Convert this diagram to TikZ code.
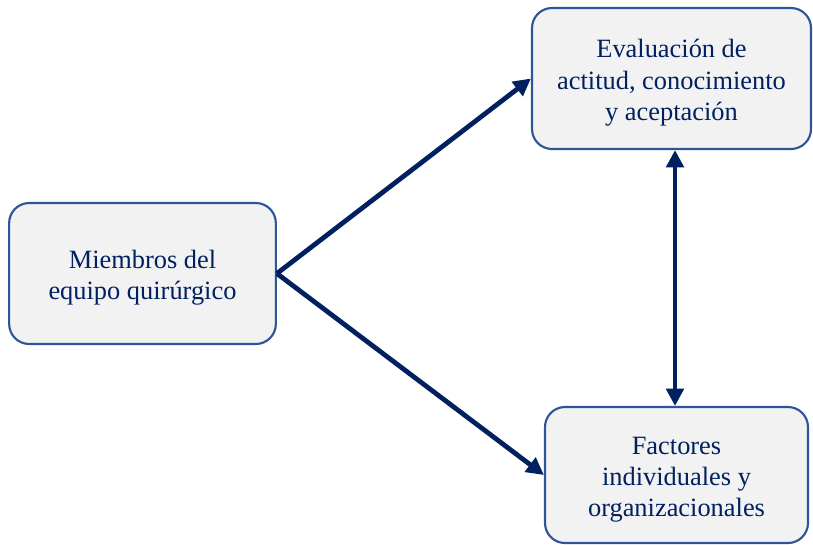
\documentclass[tikz,border=0pt]{standalone}
\usepackage{fontspec}
\setmainfont{Liberation Serif}
\usetikzlibrary{arrows.meta}
\definecolor{navy}{HTML}{002060}
\definecolor{boxline}{HTML}{2F5597}
\definecolor{boxfill}{HTML}{F2F2F2}
\newcommand{\boxlines}[1]{\raisebox{-3.2pt}[\height][\depth]{\begin{tabular}{@{}c@{}}#1\end{tabular}}}
\begin{document}
\begin{tikzpicture}[x=0.75pt,y=-0.75pt,
  box/.style={draw=boxline, fill=boxfill, line width=1.6pt, rounded corners=15pt,
    text=navy, font=\fontsize{19.8}{23.5}\selectfont, inner sep=0pt},
  conn/.style={draw=navy, line width=3.6pt, -{Triangle[length=13pt,width=13pt]}},
  dconn/.style={draw=navy, line width=3.6pt, {Triangle[length=13pt,width=13pt]}-{Triangle[length=13pt,width=13pt]}}]
\useasboundingbox (0,0) rectangle (813,544);
\node[box, minimum width=200pt, minimum height=105.75pt] (m) at (142.5,273.5)
  {\boxlines{Miembros del\\equipo quirúrgico}};
\node[box, minimum width=209.25pt, minimum height=105.75pt] (t) at (671.5,78.5)
  {\boxlines{Evaluación de\\actitud, conocimiento\\y aceptación}};
\node[box, minimum width=197.25pt, minimum height=102pt] (b) at (676.5,475)
  {\boxlines{Factores\\individuales y\\organizacionales}};
\draw[conn] (m.east) -- (t.west);
\draw[conn] (m.east) -- (b.west);
\draw[dconn] (t.south -| 675,0) -- (b.north -| 675,0);
\end{tikzpicture}
\end{document}
